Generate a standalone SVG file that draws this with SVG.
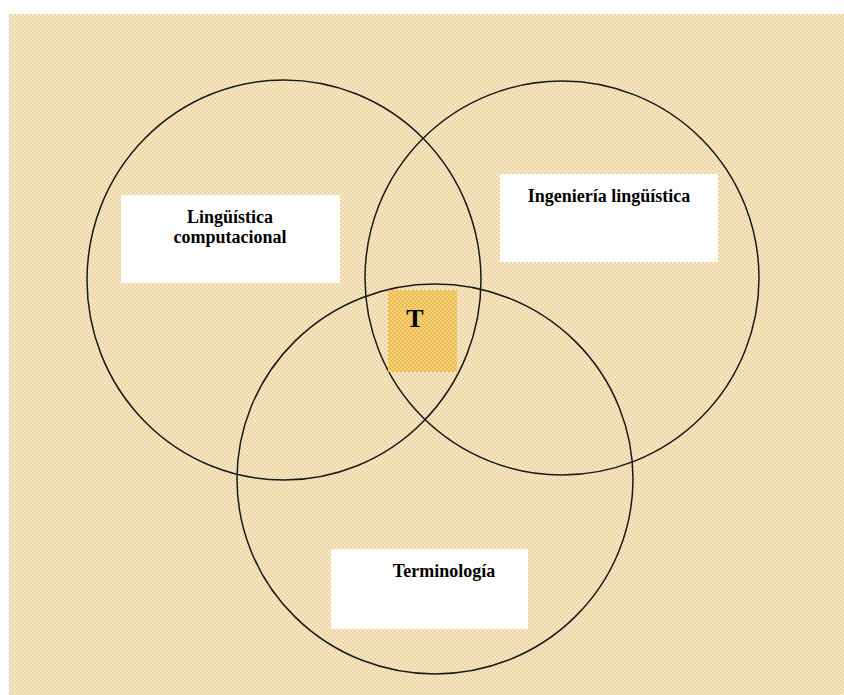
<svg xmlns="http://www.w3.org/2000/svg" width="844" height="695" viewBox="0 0 844 695">
  <defs>
    <pattern id="bgPat" width="4" height="4" patternUnits="userSpaceOnUse">
      <rect width="4" height="4" fill="#f7e8c8"/>
      <rect width="2" height="2" fill="#ecd5a2"/>
      <rect x="2" y="2" width="2" height="2" fill="#ecd5a2"/>
    </pattern>
    <pattern id="tPat" width="4" height="4" patternUnits="userSpaceOnUse">
      <rect width="4" height="4" fill="#eebb4a"/>
      <rect width="2" height="2" fill="#f4d283"/>
      <rect x="2" y="2" width="2" height="2" fill="#f4d283"/>
    </pattern>
    <style>
      .ring { fill: none; stroke: #1a1a1a; stroke-width: 1.5; }
      .box { fill: #ffffff; }
      .lbl { font-family: "Liberation Serif", "Times New Roman", serif; font-weight: bold; font-size: 18px; fill: #000; text-anchor: middle; }
    </style>
  </defs>

  <rect x="0" y="0" width="844" height="695" fill="#ffffff"/>
  <rect x="9" y="14" width="835" height="681" fill="url(#bgPat)"/>

  <g id="connectors">
    <ellipse class="ring" cx="284" cy="280" rx="197" ry="200"/>
    <circle class="ring" cx="562" cy="278" r="197"/>
    <ellipse class="ring" cx="435" cy="479" rx="198" ry="195"/>
  </g>

  <g id="node-linguistica">
    <rect class="box" x="121" y="195" width="219" height="88"/>
    <text class="lbl" x="230" y="223">Lingüística</text>
    <text class="lbl" x="230" y="243">computacional</text>
  </g>

  <g id="node-ingenieria">
    <rect class="box" x="500" y="174" width="218" height="88"/>
    <text class="lbl" x="609" y="202">Ingeniería lingüística</text>
  </g>

  <g id="node-terminologia">
    <rect class="box" x="331" y="549" width="197" height="80"/>
    <text class="lbl" x="444" y="577">Terminología</text>
  </g>

  <g id="node-T">
    <rect x="388" y="290" width="69" height="82" fill="url(#tPat)"/>
    <text x="415" y="327" font-family="Liberation Serif, Times New Roman, serif" font-weight="bold" font-size="26" text-anchor="middle" fill="#000">T</text>
  </g>
</svg>
